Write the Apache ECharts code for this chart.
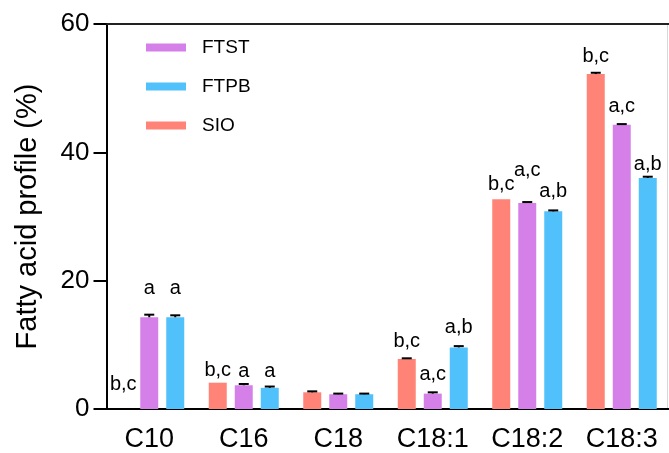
<!DOCTYPE html>
<html>
<head>
<meta charset="utf-8">
<script src="https://cdn.jsdelivr.net/npm/echarts@6/dist/echarts.min.js"></script>
<style>html,body{margin:0;padding:0;background:#fff}#c{width:669px;height:453px}</style>
</head>
<body>
<div id="c"></div>
<script>
// ---- data ----
const categories = ['C10', 'C16', 'C18', 'C18:1', 'C18:2', 'C18:3'];
const seriesNames = ['SIO', 'FTST', 'FTPB'];
const legendOrder = ['FTST', 'FTPB', 'SIO'];
const sioValues  = [0,   4.1, 2.6, 7.8, 32.7, 52.2];
const ftstValues = [14.3, 3.7, 2.3, 2.4, 32.1, 44.3];
const ftpbValues = [14.3, 3.3, 2.3, 9.6, 30.8, 36.0];
const sioErrors  = [0,   0,   0.15, 0.1, 0,    0.2];
const ftstErrors = [0.4, 0.2, 0.1,  0.2, 0.15, 0.1];
const ftpbErrors = [0.3, 0.2, 0.1,  0.2, 0.15, 0.2];
const sioLetters  = ['b,c', 'b,c', '', 'b,c', 'b,c', 'b,c'];
const ftstLetters = ['a',   'a',   '', 'a,c', 'a,c', 'a,c'];
const ftpbLetters = ['a',   'a',   '', 'a,b', 'a,b', 'a,b'];
const yTicks = [0, 20, 40, 60];

// ---- style (not data) ----
const colors = { SIO: '#FF8376', FTST: '#D580E8', FTPB: '#50C1FB' };
const labelDist = {
  SIO:  [15, 2, 0, 7, 5, 8],
  FTST: [19, 4, 0, 9, 23, 8],
  FTPB: [19, 6, 0, 10, 10, 4]
};
const barW = 18, step = 26;
const font = 'Liberation Sans, Arial, Helvetica, sans-serif';

const values = { SIO: sioValues, FTST: ftstValues, FTPB: ftpbValues };
const errors = { SIO: sioErrors, FTST: ftstErrors, FTPB: ftpbErrors };
const letters = { SIO: sioLetters, FTST: ftstLetters, FTPB: ftpbLetters };

const chart = echarts.init(document.getElementById('c'), null, { renderer: 'canvas' });

const series = [];
seriesNames.forEach((name) => {
  series.push({
    name: name,
    type: 'bar',
    barWidth: barW,
    barGap: ((step - barW) / barW * 100) + '%',
    itemStyle: { color: colors[name] },
    data: values[name].map((v, i) => ({
      value: v,
      label: {
        show: letters[name][i] !== '',
        distance: labelDist[name][i],
        formatter: letters[name][i]
      }
    })),
    label: {
      position: 'top',
      color: '#000',
      fontFamily: font,
      fontSize: 20
    },
    emphasis: { disabled: true },
    z: 2
  });
});

seriesNames.forEach((name, si) => {
  const off = (si - 1) * step;
  series.push({
    type: 'custom',
    name: name + ' err',
    data: values[name].map((v, i) => [i, v, errors[name][i]]),
    renderItem: function (params, api) {
      const cat = api.value(0), v = api.value(1), e = api.value(2);
      if (!(e > 0)) return null;
      const p0 = api.coord([cat, v]);
      const p1 = api.coord([cat, v + e]);
      const x = p0[0] + off;
      const st = { stroke: '#000', lineWidth: 2 };
      return {
        type: 'group',
        children: [
          { type: 'line', shape: { x1: x, y1: p0[1], x2: x, y2: p1[1] }, style: st },
          { type: 'line', shape: { x1: x - 5, y1: p1[1], x2: x + 5, y2: p1[1] }, style: st }
        ]
      };
    },
    z: 5,
    silent: true
  });
});

chart.setOption({
  animation: false,
  backgroundColor: '#fff',
  grid: { left: 102, top: 24, width: 572, height: 385 },
  legend: {
    data: legendOrder,
    orient: 'vertical',
    left: 141,
    top: 33,
    itemWidth: 40,
    itemHeight: 8,
    itemGap: 20,
    icon: 'rect',
    textStyle: { fontFamily: font, fontSize: 19, color: '#000', padding: [0, 0, 0, 11] },
    selectedMode: false
  },
  xAxis: [{
    type: 'category',
    data: categories,
    axisLine: { lineStyle: { color: '#000', width: 2 } },
    axisTick: { alignWithLabel: true, length: 13, lineStyle: { color: '#000', width: 2 } },
    axisLabel: { color: '#000', fontFamily: font, fontSize: 27, margin: 17 },
    splitLine: { show: false }
  }, {
    type: 'category',
    position: 'top',
    data: categories,
    axisLine: { lineStyle: { color: '#222', width: 2 } },
    axisTick: { show: false },
    axisLabel: { show: false }
  }],
  yAxis: {
    type: 'value',
    min: yTicks[0],
    max: yTicks[yTicks.length - 1],
    interval: yTicks[1] - yTicks[0],
    offset: -4.5,
    name: 'Fatty acid profile (%)',
    nameLocation: 'middle',
    nameGap: 64,
    nameTextStyle: { color: '#000', fontFamily: font, fontSize: 29 },
    axisLine: { show: true, lineStyle: { color: '#000', width: 2 } },
    axisTick: { show: true, length: 13, lineStyle: { color: '#000', width: 2 } },
    axisLabel: { color: '#000', fontFamily: font, fontSize: 26, margin: 17 },
    splitLine: { show: false }
  },
  graphic: [{
    type: 'line',
    shape: { x1: 667.5, y1: 24, x2: 667.5, y2: 409 },
    style: { stroke: '#d8d8d8', lineWidth: 1 },
    silent: true
  }],
  series: series
});
</script>
</body>
</html>
